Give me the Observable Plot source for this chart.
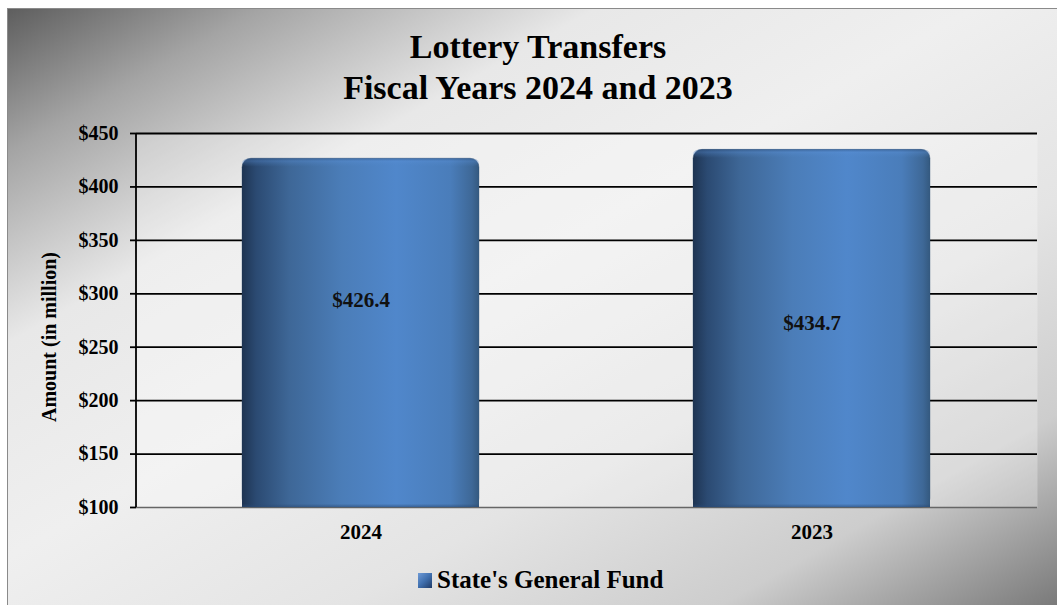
<!DOCTYPE html>
<html>
<head>
<meta charset="utf-8">
<script src="https://cdn.jsdelivr.net/npm/d3@7"></script>
<script src="https://cdn.jsdelivr.net/npm/@observablehq/plot@0.6"></script>
<style>
  html, body { margin: 0; padding: 0; background: #fff; }
  #wrap { position: relative; width: 1057px; height: 605px; overflow: hidden; font-family: "Liberation Serif", "Times New Roman", serif; }
  #bg { position: absolute; left: 7px; top: 8px; width: 1050px; height: 597px; box-sizing: border-box;
        border-left: 1px solid #8a8a8a; border-top: 1px solid #8a8a8a;
        background: linear-gradient(to bottom right, #5e5e5e 0%, #a4a4a4 12%, #e8e8e8 28%, #efefef 46%, #e4e4e4 66%, #cdcdcd 84%, #7a7a7a 100%); }
  #title { position: absolute; left: 38px; width: 1000px; top: 26px; text-align: center; font-weight: bold; font-size: 34px; line-height: 41px; color: #000; }
  #ylabel { position: absolute; left: 49px; top: 337px; transform: translate(-50%, -50%) rotate(-90deg); white-space: nowrap; font-weight: bold; font-size: 20px; color: #000; }
  #legend { position: absolute; left: 418px; top: 565px; height: 30px; font-weight: bold; font-size: 25px; color: #000; white-space: nowrap; display: flex; align-items: center; }
  #legend .sw { width: 14px; height: 15px; margin-right: 5px; background: linear-gradient(135deg, #6e9ad6 0%, #3f6fae 50%, #1f3a66 100%); }
  #chart { position: absolute; left: 0; top: 0; }
</style>
</head>
<body>
<div id="wrap">
  <div id="bg"></div>
  <div id="chart"></div>
  <div id="title">Lottery Transfers<br>Fiscal Years 2024 and 2023</div>
  <div id="ylabel">Amount (in million)</div>
  <div id="legend"><span class="sw"></span><span>State's General Fund</span></div>
</div>
<script>
// ---- data ----
const years = ["2024", "2023"];
const amounts = [426.4, 434.7];
const labelAt = [294, 272];          // value-label anchor (in $ million units)
const yTicks = [100, 150, 200, 250, 300, 350, 400, 450];
const seriesName = "State's General Fund";

const data = years.map((y, i) => ({year: y, amount: amounts[i], labelY: labelAt[i]}));

const font = "'Liberation Serif', 'Times New Roman', serif";

const chart = Plot.plot({
  width: 1057,
  height: 605,
  marginLeft: 136,
  marginRight: 20,
  marginTop: 133,
  marginBottom: 98,
  style: {background: "transparent", fontFamily: font, fontWeight: "bold", fontSize: "20px", color: "#000", overflow: "visible"},
  x: {domain: years, paddingInner: 0.4745, paddingOuter: 0.235, label: null, axis: null},
  y: {domain: [100, 450], label: null, axis: null},
  marks: [
    Plot.frame({fill: "#ffffff", fillOpacity: 0.28, stroke: null}),
    Plot.gridY(yTicks.filter(d => d > 100), {stroke: "#000", strokeOpacity: 1, strokeWidth: 1.8}),
    Plot.ruleY([100], {stroke: "#666", strokeWidth: 1.5}),
    // cylinder bars: rounded top + square bottom section
    Plot.barY(data, {x: "year", y1: 100, y2: "amount", fill: "url(#barGrad)", rx: 9, stroke: "#2c4a70", strokeOpacity: 0.35}),
    Plot.barY(data, {x: "year", y1: 100, y2: d => d.amount - 15, fill: "url(#barGrad)"}),
    Plot.barY(data, {x: "year", y1: d => d.amount - 8, y2: "amount", fill: "url(#topGrad)", rx: 9}),
    Plot.barY(data, {x: "year", y1: 100, y2: 103, fill: "url(#botGrad)"}),
    Plot.text(data, {x: "year", y: "labelY", text: d => "$" + d.amount.toFixed(1), fontSize: 21, fontWeight: "bold", fill: "#111"}),
    Plot.axisY(yTicks, {tickFormat: d => "$" + d, tickSize: 6, tickPadding: 12, label: null, fontSize: 20, fontWeight: "bold", stroke: "#000", strokeWidth: 1.8}),
    Plot.axisX({tickSize: 0, tickPadding: 17, label: null, fontSize: 21, fontWeight: "bold"}),
    (index, scales, values, dims) => {
      const g = d3.create("svg:line")
        .attr("x1", dims.marginLeft).attr("x2", dims.marginLeft)
        .attr("y1", dims.marginTop).attr("y2", dims.height - dims.marginBottom)
        .attr("stroke", "#000").attr("stroke-width", 1.8);
      return g.node();
    }
  ]
});

// gradient definitions for the bars
const defs = d3.select(chart).insert("defs", ":first-child");
const lg = defs.append("linearGradient").attr("id", "barGrad").attr("x1", 0).attr("x2", 1).attr("y1", 0).attr("y2", 0);
[[0, "#1e3452"], [0.06, "#2b4a72"], [0.2, "#3e6797"], [0.42, "#4b7db8"], [0.65, "#5087cb"], [0.88, "#4a7dba"], [0.97, "#3e6897"], [1, "#34597f"]]
  .forEach(([o, c]) => lg.append("stop").attr("offset", o).attr("stop-color", c));
const tg = defs.append("linearGradient").attr("id", "topGrad").attr("x1", 0).attr("x2", 0).attr("y1", 0).attr("y2", 1);
[[0, "#2f5280", 0.55], [0.35, "#5a90d6", 0.35], [1, "#4f86c8", 0]]
  .forEach(([o, c, a]) => tg.append("stop").attr("offset", o).attr("stop-color", c).attr("stop-opacity", a));
const bg = defs.append("linearGradient").attr("id", "botGrad").attr("x1", 0).attr("x2", 0).attr("y1", 0).attr("y2", 1);
[[0, "#2a4a75", 0], [1, "#2a4a75", 0.6]]
  .forEach(([o, c, a]) => bg.append("stop").attr("offset", o).attr("stop-color", c).attr("stop-opacity", a));

document.getElementById("chart").appendChild(chart);
</script>
</body>
</html>
